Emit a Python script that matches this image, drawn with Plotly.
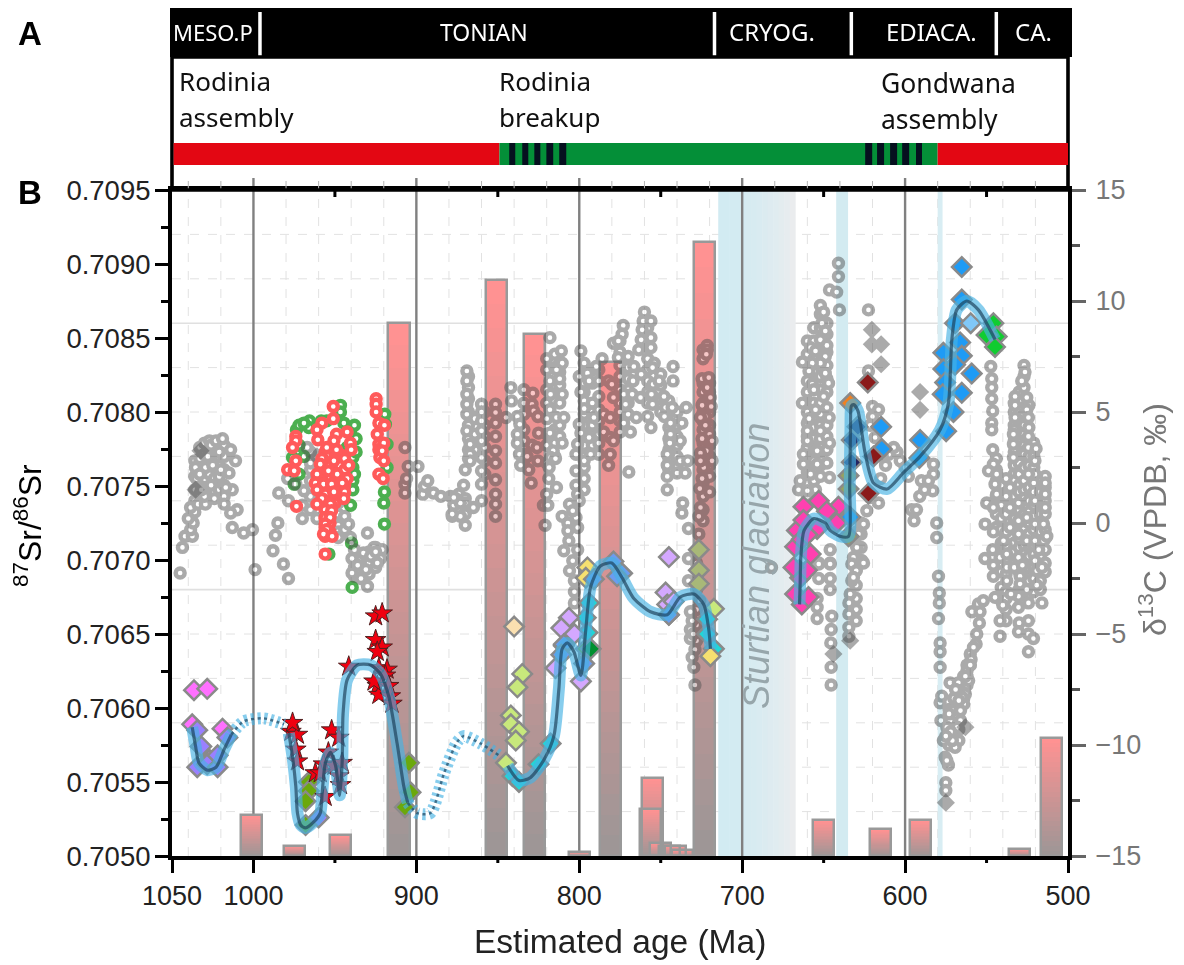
import plotly.graph_objects as go

# ---------- axis values ----------
age_ticks = [1050, 1000, 900, 800, 700, 600, 500]
major_lines = [1000, 900, 800, 700, 600]
minor_50 = [950, 850, 750, 650, 550]
grid_ages = [1040, 1020, 980, 960, 940, 920, 880, 860, 840, 820, 780, 760, 740, 720, 680, 660, 640, 620, 580, 560, 540, 520]
grid_sr = [0.7092, 0.7089, 0.7083, 0.7080, 0.7077, 0.7074, 0.7071, 0.7065, 0.7062, 0.7059, 0.7056, 0.7053]
solid_sr = [0.7086, 0.7068]
sr_ticks = [0.7050, 0.7055, 0.7060, 0.7065, 0.7070, 0.7075, 0.7080, 0.7085, 0.7090, 0.7095]
sr_minor = [0.70525, 0.70575, 0.70625, 0.70675, 0.70725, 0.70775, 0.70825, 0.70875, 0.70925]
d13c_ticks = [-15, -10, -5, 0, 5, 10, 15]
d13c_minor = [-12.5, -7.5, -2.5, 2.5, 7.5, 12.5]

# ---------- bars ----------
bar_age = [1001, 975, 946.6, 910.7, 851, 827.6, 800, 780.7, 736.6, 741, 744.7, 750, 755, 756.5, 723, 650.3, 615, 590.5, 529.8, 510]
bar_top = [0.70528, 0.70507, 0.70514, 0.7086, 0.70889, 0.70853, 0.70503, 0.70834, 0.70504, 0.70507, 0.70507, 0.70509,
           0.70553, 0.70532, 0.70915, 0.70524, 0.70518, 0.70524, 0.70505, 0.7058]

# ---------- glaciations ----------
sturtian = (714.7, 667.5)
marinoan = (642.3, 635)
gaskiers = (580, 577)

# ---------- panel A ----------
period_names = ["MESO.P", "TONIAN", "CRYOG.", "EDIACA.", "CA."]
period_seps = [996, 717, 633, 544]
red_left = (1049, 849)
green_mid = (849, 580)
red_right = (580, 500)
stripes_1 = [(843, 839.3), (835, 831.3), (827.6, 823.9), (820.2, 816), (812.3, 808)]
stripes_2 = [(624.5, 620.2), (617.2, 612.9), (609.2, 604.9), (601.8, 597.5), (593.3, 589.6)]

# ---------- grey d13C circles ----------
gray_a_age = [1045, 1043.6, 1042, 1037.5, 1038.6, 1037, 1040, 1038.6, 1034, 1029.5, 1035.6, 1029.5, 1035, 1031, 1026, 1023, 1019, 1014, 1011, 1015, 1013, 1018, 1010, 1014, 1013, 1006, 1000.6, 999, 985, 986.5, 988, 981.6, 978.5, 984.5, 978.5, 979, 1033, 1028, 1025, 1021, 1030, 1026, 1020, 1032, 1024, 1017]
gray_a_d = [-2.25, -1.1, -0.6, -0.6, -0.3, 0, 0.2, 0.7, 0.85, 0.85, 2.5, 2.5, 2, 1.6, 3.5, 3.7, 3.8, 3.3, 2.8, 2.25, 1.5, 0.85, 0.6, 0.45, -0.2, -0.45, -0.3, -2.1, 0, -0.55, -1.25, -1.85, -2.5, 1.35, 1, 2, 2.2, 3, 2.6, 3.2, 1.2, 1.7, 2.4, 1.5, 1.1, 1.6]
gray_b_age = [967, 965, 974, 969, 970, 970, 961, 948, 941.6, 940.5, 930, 939.5, 932.5, 926, 921, 922, 939.5, 934, 930, 928, 924, 907, 905, 899, 907, 907, 906, 896, 895, 893, 889.5, 885, 879, 876, 878, 877, 936, 931, 925]
gray_b_d = [3.4, 2.7, 1.75, 1.45, 0.2, 0.8, 0.2, -0.65, -0.05, -0.65, -0.45, -1.6, -1.35, -1.1, -1.2, -1.6, -2.25, -2.5, -2.85, -1.5, -1.8, 3.4, 2.55, 2.55, 1.75, 1.35, 2, 1.3, 1.65, 1.9, 1.35, 1.2, 1.2, 1.1, 0.3, 0.8, -1.9, -2.1, -1.3]
gray_c_age = [869, 869, 869, 869, 869, 869, 870, 867, 867, 867, 871, 873, 873, 865, 877, 878, 860, 860, 860, 860, 860, 860, 860, 860, 860, 851.4, 851.4, 851.4, 851.4, 851.4, 851.4, 851.4, 851.4, 851.4, 851.4, 845, 842, 841.6, 838, 836.5, 838, 838, 836.7, 836, 831, 832, 829.5, 828.5, 829, 828, 825.4, 825, 829, 826, 825.4]
gray_c_d = [6.85, 6.4, 5.8, 5.35, 4.9, 4.15, 2.4, 3.55, 3.1, 2.8, 1.7, 0.9, 0.3, 0.7, 1.15, 0.4, 5.35, 5, 4.6, 4.15, 3.7, 2.95, 2.35, 1.75, 1, 5.35, 4.98, 4.5, 3.9, 3.25, 2.7, 1.95, 1.3, 0.85, 0.3, 4.75, 6.1, 5.5, 4.8, 4.45, 4, 3.6, 3.1, 2.6, 2.4, 3, 1.8, 5.85, 5.35, 5.05, 4.8, 4.05, 3.5, 3.4, 2.8]
gray_d_age = [818, 811, 810.5, 814, 818, 812, 810.5, 817.6, 818, 814, 809.5, 818, 810.5, 816, 817.6, 814.6, 818.5, 818.7, 814, 820, 822, 819.3, 821, 799, 800, 795, 799, 794, 797, 800, 799, 801, 802, 797, 802, 802, 801, 800, 806, 810.5, 807, 807, 802, 804, 801, 791, 794, 793, 809.5, 804, 806, 803, 803, 803, 806.4, 801]
gray_d_d = [8.35, 7.75, 7.2, 6.9, 6.4, 6.5, 5.8, 5.8, 5.1, 4.75, 4.75, 4.05, 3.6, 3.25, 2.95, 2.9, 2.5, 2, 1.6, 1.3, 0.8, 0.8, -0.1, 7.75, 6.6, 6.75, 5.9, 6.4, 5.15, 4.45, 4.05, 3.55, 3.1, 2.8, 2.35, 1.7, 1.3, 1, 0.85, 0.3, 0, -0.35, 0.25, 0.55, -0.2, 4.75, 3.85, 3.1, -1.25, -1.7, -2.15, -2.6, -3.1, -3.6, -0.8, -1.2]
gray_e_age = [789.6, 786, 779, 776, 773, 773.7, 776, 782, 780, 785, 781, 785, 781, 781, 782, 779, 779, 772.7, 771.6, 772.7, 768.6, 765, 767.5, 762.4, 769.6, 766.5, 767, 762, 760, 760.8, 761.4, 762, 763.5, 756, 756, 756, 754, 755, 754.7, 755.7, 755, 756, 751, 748, 747, 747.7, 743, 742.4, 742.4, 744, 744, 744.4, 738, 737, 734.4, 746, 746, 746, 740, 738, 733.4, 735, 746, 736.5, 737, 733]
gray_e_d = [7.05, 7.4, 8.1, 7.45, 8.9, 8.5, 8.2, 6.4, 6.25, 4.9, 4.75, 4.1, 3.85, 3.1, 2.6, 3.7, 5.65, 5.8, 5.35, 4.5, 4.1, 4.75, 5.8, 5.65, 2.3, 7.05, 6.4, 6.7, 9.5, 9.1, 8.7, 8.25, 7.8, 9.1, 8.35, 7.9, 7.2, 7, 6.25, 5.8, 5.35, 4.3, 6.4, 5.7, 5.2, 4.8, 5.2, 7.05, 6.4, 4.5, 4, 3.6, 3.7, 4.5, 5.2, 3.1, 2.6, 2.1, 2.25, 2.8, 2.8, 2.25, 1.5, 0.9, 0.45, -0.25]
gray_f_age = [721.5, 721.5, 722, 724.6, 720.5, 721.5, 719.5, 724.6, 719, 722.6, 722.6, 724.6, 718.5, 722, 723.6, 724.6, 726, 720, 725.6, 726.6, 726.6, 725.6, 725.6, 718.5, 725.6, 733, 733, 731.8, 730.7, 731.8, 731.8, 729, 730.7, 729.7, 729, 727, 726, 730]
gray_f_d = [8, 7.8, 7.6, 6.5, 6.55, 6.1, 5.65, 5.3, 5.25, 4.8, 4.4, 3.8, 3.7, 3.25, 2.5, 2, 1.55, 1.4, 0.7, 0.3, -0.5, 3.15, 2.8, 2.8, 4.75, -1.6, -2.6, -4, -4.4, -4.8, -5.2, -5.7, -6.05, -6.5, -7.3, -2.8, -3.5, -5]
gray_g_age = [640.9, 640.9, 646.4, 642, 640.3, 650, 651, 649, 656, 652, 648, 658, 655, 649, 652, 663, 657, 659, 649, 657, 647, 650, 656, 663, 655, 646.6, 659, 652, 660, 660, 646.4, 654, 662.4, 662.4, 654, 658, 664.4, 646.4, 665.4, 655, 660, 653, 646, 646, 682]
gray_g_d = [11.7, 11.1, 10.5, 10.4, 9.6, 9.5, 9, 8.65, 8.2, 8.25, 8, 7.9, 7.75, 7.5, 7.2, 7.25, 7.2, 6.85, 6.75, 6.25, 6.3, 5.7, 6, 5.4, 5.1, 4.75, 4.7, 4.15, 4.15, 3.7, 3.6, 3.25, 3.1, 2.65, 2.65, 2.2, 1.9, 2.05, 1.5, 1.5, 1.45, -1.8, -1.2, -1.8, -2]
gray_h_age = [622.5, 622.5, 620, 616.3, 620, 618.4, 621.4, 605, 610, 614, 603, 598, 615, 590, 582.6, 582.6, 585.7, 583, 591, 596, 593, 594.5, 580.6, 580.6, 616.3, 621.4, 623.5, 625.5, 628.6, 629.6, 631.7, 626.5, 612, 607, 600, 588]
gray_h_d = [9.6, 6.85, 5.25, 5.1, 4.8, 3.85, 4.4, 3.2, 3.1, 3, 2.8, 2.1, 2, 1.9, 2.65, 2.2, 1.9, 1.45, 1.2, 0.6, 0.6, 0.1, 0, -0.65, 0.9, 1.15, 0.55, -0.05, -0.5, -1.1, -1.55, -1.7, 2.6, 3.4, 2.5, 1.5]
gray_i_age = [653, 653, 646, 646, 646, 654, 654, 654, 645, 645.4, 645.6, 645.4, 645.4, 632.7, 630, 632.7, 633.7, 634.5, 634.5, 634.5, 634.5, 631.7, 625.5, 579.5, 579, 579, 579.5, 578.5, 578.5, 578.5]
gray_i_d = [-1.85, -2.5, -1.85, -2.5, -3, -3.4, -3.8, -4.3, -4.2, -4.8, -5.4, -6.5, -7.3, -1.85, -2.15, -2.6, -3.2, -3.6, -4.1, -4.7, -5.1, -2.45, -1.8, -2.4, -3.15, -3.6, -4.3, -5.4, -5.8, -6.5]
gray_j_age = [578.5, 577.5, 578, 572.4, 559, 555, 552, 554, 554.4, 556, 556.4, 559.5, 562, 564, 567.3, 566, 569, 564, 568.3, 566, 572.4, 570.3, 576.5, 569.3, 575.4, 573.4, 574.4, 575, 575, 571, 574.4, 566, 563, 561, 558, 571, 565, 568, 572, 570, 567, 573, 575, 569, 563, 560]
gray_j_d = [-8.1, -7.8, -8.9, -7.2, -4, -3.65, -3.5, -4, -4.5, -5, -5.45, -6.15, -6.65, -7, -7.2, -7.55, -8.15, -8.15, -8.75, -8.9, -8.9, -9.5, -9.8, -10.1, -10.55, -10.9, -10.7, -11.7, -12.05, -8.45, -9.2, -8.45, -7.7, -7.1, -5.6, -9.8, -7.85, -9.2, -9.4, -7.9, -8, -8.6, -9.6, -7.5, -6.9, -6.4]
gray_k_age = [547.4, 546.8, 546.8, 546.8, 546.2, 546.8, 546.8, 546.2, 545.8, 548.8, 544.8, 549.9, 550.9, 551, 545.8, 545.8, 546.2, 527, 526.4, 528.4, 532.5, 525.3, 532.5, 525.3, 532.5, 524.3, 533.5, 524.3, 533.5, 524.3, 533.5, 519.6, 520.3, 535.6, 520.3, 524.3, 514, 514, 514, 530.4, 530.4, 530.4, 530.4, 525.3, 525.3, 520.3, 520.3, 520.3, 520.3, 515, 515, 535.6, 535.6, 539.6, 541.7, 543.8, 543.8, 537.6]
gray_k_d = [7.05, 6.5, 6.1, 5.6, 5.05, 4.5, 4.2, 3.3, 2.65, 2.35, 1.75, 0.9, -0.05, -1.6, 0.7, -0.4, -1.2, 7.1, 6.8, 6.4, 5.7, 5.65, 5.3, 5.1, 4.75, 4.75, 4, 3.9, 3.55, 3.4, 2.95, 3.35, 2.8, 1.6, 2.2, 2.2, 1.8, 1.3, 0.7, 0.9, 0.1, -0.5, -1.55, 0.25, -0.8, 1, -0.05, -0.8, -1.7, -0.05, -0.8, 0.7, -0.2, -0.8, -1.55, 2.2, 1.3, -1.4]
gray_l_age = [545.8, 545.8, 544.8, 541.7, 541.7, 529.4, 529.4, 530.4, 530.4, 530, 530.4, 524.3, 524.3, 524.3, 521.2, 524.3, 516, 519.2, 519.2, 525.3, 537.6, 537.6, 538, 540, 535, 533, 528, 518, 516, 513]
gray_l_d = [-1.9, -2.4, -3.35, -4.4, -5.1, -2.4, -2.75, -3.3, -3.8, -4.5, -4.9, -3.6, -4.4, -5, -5.2, -5.8, -3.6, -2.8, -2.15, -3, -2.6, -2, -3.4, -3.7, -3.2, -2, -1.9, -1.2, -2, -0.6]
gray_columns = [
    (533, [5.4, 5.0, 4.4, 4.2, 3.7, 3.2, 2.6, 2.2, 1.9, 1.2, 0.6, 0.2, -0.2, -0.9, -1.3, -1.8]),
    (530, [5.9, 5.5, 5.1, 4.6, 3.6, 3.0, 2.7, 2.2, 1.7, 1.4, 0.9, 0.6, -0.1, -0.7, -1.1, -1.9, -2.2, -3.0]),
    (527, [6.6, 6.1, 4.9, 4.4, 4.0, 3.5, 3.1, 2.5, 1.9, 1.5, 1.1, 0.4, -0.3, -1.0, -1.4, -2.1, -2.6]),
    (524, [5.3, 4.3, 3.0, 2.6, 1.6, 1.0, 0.5, 0.0, -0.5, -1.0, -1.5, -2.0, -2.6, -3.2]),
    (521, [3.6, 3.0, 2.5, 1.8, 1.4, 0.8, 0.3, -0.3, -1.0, -1.4, -2.0, -2.5, -3.1]),
    (517, [1.4, 1.0, 0.4, 0.0, -0.4, -1.0, -1.5, -2.0, -2.6, -3.0]),
    (514, [2.1, 1.6, 1.0, 0.4, -0.3, -0.7, -1.2, -1.8, -2.2]),
    (544, [2.9, 2.4, 1.9, 1.2, 0.4, -0.2]),
    (541, [1.7, 1.3, 0.8, 0.2, -0.3, -0.9, -1.4, -2.2, -2.9, -3.5]),
    (538, [2.0, 1.2, 0.4, -0.4, -1.0, -1.6, -2.3, -3.1, -3.9, -4.4]),
    (573, [-8.4, -9.1, -9.3, -10]), (570, [-7.9, -8.4, -8.9, -9.4, -9.9]), (567, [-7.6, -8, -8.4, -8.8, -9.3, -9.8]),
    (564, [-6.9, -7.4, -7.9]), (562, [-6.4, -6.9, -7.3]), (560, [-5.9, -6.4]),
    (1036, [2.8, 2.1, 1.5, 1.0, 0.5]), (1033, [3.4, 2.9, 2.4, 1.9, 1.3, 0.9]), (1030, [3.6, 3.1, 2.0, 1.5]),
    (1027, [3.7, 3.2, 2.7, 2.2, 1.6]), (1024, [3.4, 3.0, 2.5, 2.0, 1.4]), (1021, [3.5, 3, 2.6, 2.1, 1.5]), (1018, [3.5, 3.0, 2.4, 1.7, 1.2]),
    (965, [3.2, 2.4, 1.9, 1.2, 0.6]), (948, [0.9, 0.4, -0.1, -0.4]), (944, [0.3, -0.3]), (938, [-1.2, -2, -2.4]),
    (935, [-1.7, -2.2]), (932, [-1.9, -2.3]), (929, [-1.3, -1.8, -2.3]), (925, [-1.1, -1.5, -2]),
    (868, [6.6, 6.1, 5.6, 5.0, 4.4, 3.8, 3.3, 2.9]), (874, [1.3, 0.8, 0.5]), (870, [1.1, 0.9, 0.4, -0.1]),
    (858, [5, 4.4, 3.9, 3.4, 2.8, 2.2]), (864, [4.7, 4, 3.3]),
    (834, [6, 5.4, 4.9, 4.2, 3.7, 3.1, 2.6]), (820, [7.4, 6.9, 6, 5.4, 4.7, 4, 3.5, 2.7]),
    (815, [7.6, 7, 6.2, 5.5, 4.2, 3.6, 3]), (812, [7.2, 6.8, 6.2, 5.4, 4.4, 3.9]),
    (797, [7.2, 6.8, 6.3, 5.9, 5.5, 4.9, 4.4, 3.9, 3.5, 3, 2.5, 2, 1.5]), (792, [6.9, 6.3, 5.4, 5, 4.4, 4, 3.5]),
    (788, [6.9, 6.4, 5.7, 5.1, 4.6, 4, 3.6, 3.1]), (775, [8.2, 7.7, 7.1, 6.6, 6, 5.4, 5, 4.6, 4.1]),
    (770, [7.5, 7, 6.5, 6, 5.4, 4.9]), (758, [8.8, 8.4, 7.9, 7.4, 6.9, 6.4, 5.9, 5.4, 4.8]),
    (750, [6.7, 6.2, 5.6, 5]), (745, [5.5, 5, 4.3, 3.8, 3.3, 2.9, 2.4]), (740, [5, 4.4, 3.9, 3.5, 3, 2.5]),
    (724, [7.8, 7.4, 6.3, 5.9, 5.4, 5, 4.6, 4.2, 3.6, 3.2, 2.8, 2.4, 1.8, 1.2, 0.6, 0.1]),
    (720, [6.3, 5.9, 5.4, 5, 4.4, 4, 3.5, 3, 2.6, 2.1]), (728, [-1.8, -3, -3.9, -4.6, -5.3]),
    (660, [8.2, 7.6, 6.4, 5.9, 5.4, 5, 4.5, 3.9, 3.4, 2.8, 2.3, 1.8, 1.2]),
    (656, [8.8, 8, 7.4, 6.8, 5.4, 4.8, 4.3, 3.8, 3.3, 2.8, 2.4, 1.9]),
    (652, [9.8, 9.4, 8.8, 8.3, 7.7, 6.6, 6, 5.4, 4.9, 4.4, 3.8, 3.2, 2.6, 2.1]),
    (648, [9, 8.5, 7.7, 7.1, 6.5, 5.9, 5.2, 4.4, 3.9, 3.3, 2.7]),
    (630, [-0.4, -1, -1.6, -2.1, -2.8, -3.4, -3.9, -4.4]), (627, [0, -0.5, -1.1, -1.7]),
]
gray_diamond_age = [620.4, 620.4, 614.7, 614.7, 590.8, 590.8, 644, 633.7, 575, 563, 961, 1032.5, 1035.5]
gray_diamond_d = [8.7, 8.05, 8.05, 7.15, 5.9, 5.1, -5.9, -5.3, -12.6, -9.2, 3, 3.25, 1.5]

# ---------- red and green d13C circles ----------
red_age = [951, 951, 958, 961, 960.5, 974, 974, 976, 974, 979, 975, 949, 942.5, 950.6, 940.5, 940, 949, 955, 959, 950.6, 941.5, 961, 954, 948.6, 942.5, 945.5, 962, 957, 952, 961, 956, 950.6, 944.5, 958, 961, 952.7, 956, 952, 956, 953, 956, 955, 957, 951.7, 956, 973.6, 924.7, 924.7, 924.7, 923, 919.6, 924, 923, 923, 920, 922.4, 920, 923, 920.4, 921]
red_d = [5.25, 4.7, 4.5, 4.2, 3.75, 3.9, 3.7, 3.4, 2.8, 2.4, 2.35, 4, 4.1, 3.7, 3.6, 3.3, 3.3, 3.4, 2.65, 2.8, 2.6, 2.2, 2.35, 2.2, 2, 1.8, 1.8, 1.75, 1.75, 1.5, 1.3, 1.4, 1.1, 1.1, 0.85, 0.85, 0.6, 0.55, 0.25, 0.25, -0.05, -0.3, -0.5, -0.6, -1.4, 0.75, 5.6, 5.35, 5, 4.5, 4.4, 4, 3.55, 3.3, 3.6, 2.95, 2.8, 2.2, 2, 3.25]
red_columns = [
    (956, [3.2, 2.6, 2.1, 1.5, 1, 0.7, 0.2, -0.2, -0.6]), (953, [3.1, 2.6, 2.1, 1.5, 1.1, 0.6, 0, -0.4]),
    (950, [3.1, 2.4, 1.9, 1.2, 0.9]), (958, [2.9, 2.4, 1.9, 1.4]), (947, [3.1, 2.6, 1.9, 1.3]), (944, [2.9, 2.4, 1.7, 1.4]),
]
green_age = [946.6, 946.6, 965.6, 958.4, 973.6, 944.5, 940.4, 919.4, 919, 939, 939, 939, 939, 940.4, 939.8, 939.4, 919.6, 920, 919.6, 953.7, 976, 976, 975, 918, 918, 966, 955, 942.5, 972, 972, 972, 969, 969, 937, 937, 938, 938]
green_d = [5.3, 5, 4.6, 4.6, 4.2, 4.5, 4.15, 4.9, 4.45, 2.95, 2.5, 1.9, 1.5, 0.8, -0.9, -2.9, 1.4, 0.9, -0.05, -1.4, 2.95, 2.35, 1.75, 3.55, 2.5, 4.3, 4.6, 3.4, 4.4, 3.5, 2.2, 4.5, 3, 3.8, 3.2, 4.4, 2.2]

# ---------- 87Sr/86Sr diamonds ----------
pink_age = [1036.5, 1028.4, 1037.6, 1019, 1032.5, 1027]
pink_sr = [0.70612, 0.70613, 0.70589, 0.70586, 0.70574, 0.70565]
violet_age = [1034.5, 1032, 1034.5, 1028.4, 1022, 1022, 1016, 960]
violet_sr = [0.70585, 0.70574, 0.7056, 0.70562, 0.7056, 0.70568, 0.7058, 0.70526]
olive_age = [966, 966, 968, 968, 904.6, 903.6, 907, 796]
olive_sr = [0.7055, 0.70544, 0.70537, 0.70521, 0.70563, 0.70543, 0.70533, 0.7064]
cream_age = [840]
cream_sr = [0.70655]
lime_age = [835, 838, 842, 842, 837, 839, 845, 717.4]
lime_sr = [0.70623, 0.70614, 0.70595, 0.70589, 0.70584, 0.70578, 0.70563, 0.70667]
teal_age = [841, 837, 825, 817.6, 796, 795, 794, 721.5, 717.4, 721.5]
teal_sr = [0.70554, 0.7055, 0.70562, 0.70576, 0.70661, 0.70651, 0.70671, 0.7066, 0.7064, 0.7065]
lilac_age = [806.4, 811, 814.6, 799, 745, 747, 746, 745, 809.5, 803, 742]
lilac_sr = [0.70661, 0.70654, 0.70627, 0.70618, 0.70702, 0.70678, 0.7067, 0.70663, 0.70642, 0.7065, 0.70672]
green_dark_age = [793]
green_dark_sr = [0.7064]
yellow_age = [795, 796, 719.5]
yellow_sr = [0.70695, 0.70688, 0.70635]
sage_age = [726.6, 726.6, 726.6]
sage_sr = [0.70707, 0.70693, 0.70684]
periwinkle_age = [779, 773.7, 776.8, 791, 809.5, 797, 811, 745]
periwinkle_sr = [0.70699, 0.70691, 0.70689, 0.70687, 0.70643, 0.7063, 0.70636, 0.70663]
azure_age = [565.2, 565.2, 569.3, 566.2, 576.5, 565.2, 576.5, 569.3, 559.1, 575.4, 565.2, 576.9, 570.3, 574.8, 590.8, 591.2, 614.7, 614.3, 633.7]
azure_sr = [0.70898, 0.70876, 0.7086, 0.70847, 0.7084, 0.70838, 0.70829, 0.70832, 0.70826, 0.7082, 0.70813, 0.70812, 0.708, 0.70787, 0.70781, 0.70769, 0.7079, 0.70775, 0.70729]
sky_age = [559.7]
sky_sr = [0.7086]
bright_green_age = [545.8, 543.8, 550, 544.8]
bright_green_sr = [0.7086, 0.70851, 0.70852, 0.70844]
maroon_age = [622.9, 619.4, 622.5]
maroon_sr = [0.7082, 0.7077, 0.70745]
orange_age = [633.7]
orange_sr = [0.70806]
navy_age = [629.2, 632.7, 632.7]
navy_sr = [0.7079, 0.70781, 0.70766]
khaki_age = [634.7, 634.7, 634.7]
khaki_sr = [0.70757, 0.70748, 0.70716]
hotpink_age = [662.4, 653, 640.9, 654, 666.4, 667.5, 658, 665, 642, 662.4, 663.4, 660, 648, 663.4, 667.5, 659.3, 664.4, 660.3, 668.5]
hotpink_sr = [0.70736, 0.7074, 0.70736, 0.70721, 0.7072, 0.70709, 0.70704, 0.70693, 0.70725, 0.70727, 0.70714, 0.70717, 0.70733, 0.7067, 0.70677, 0.70675, 0.70688, 0.70693, 0.70695]

# ---------- stars ----------
star_red_age = [952, 925, 921, 925, 921, 924, 941.5, 923, 924, 923, 926, 918, 977, 973, 974, 973, 976, 962]
star_red_sr = [0.70585, 0.70662, 0.70664, 0.70646, 0.70641, 0.70638, 0.70628, 0.70627, 0.70615, 0.70609, 0.70618, 0.70626, 0.70584, 0.70582, 0.70572, 0.70564, 0.7059, 0.70556]
star_under_age = [947.6, 954, 957, 950.6, 945.6, 959, 947.6, 946.6, 956, 919, 917, 916, 915]
star_under_sr = [0.7058, 0.7057, 0.70562, 0.70561, 0.70563, 0.70556, 0.70554, 0.70548, 0.7054, 0.70622, 0.70615, 0.70608, 0.70603]

# ---------- smoothed Sr curve ----------
curve_1_age = [1037.6, 1035.5, 1033.5, 1028.4, 1023, 1018, 1013.6]
curve_1_sr = [0.70587, 0.70574, 0.70563, 0.70558, 0.7056, 0.70572, 0.70582]
dots_1_age = [1013.6, 1006, 993.6, 981.3]
dots_1_sr = [0.70582, 0.70591, 0.70593, 0.70589]
curve_2_age = [978.3, 976, 974, 973, 971, 968, 963, 959, 957.8, 955.8, 952.7, 949.6, 947, 945.5, 945, 942.5, 936.3, 928, 922, 917, 911.8, 907.7, 905.3]
curve_2_sr = [0.70583, 0.70567, 0.70547, 0.70529, 0.70521, 0.70519, 0.70523, 0.70529, 0.70543, 0.70563, 0.7057, 0.70561, 0.70541, 0.70565, 0.70596, 0.70619, 0.70629, 0.70629, 0.70623, 0.70608, 0.70576, 0.70547, 0.70536]
dots_2_age = [905.3, 899.5, 891.4, 883, 875, 871, 860.6, 849.3]
dots_2_sr = [0.70536, 0.70529, 0.70529, 0.70556, 0.70577, 0.70581, 0.70576, 0.70568]
curve_3_age = [844, 837, 830, 821.7, 815.6, 812.5, 810.5, 807.4, 803.3, 799, 796, 793, 787, 780, 773.7, 766.5, 756.3, 746, 738, 729.7, 723.6, 720.5, 719.5]
curve_3_sr = [0.70561, 0.70551, 0.70553, 0.70565, 0.70581, 0.70613, 0.7064, 0.70644, 0.70638, 0.70622, 0.70653, 0.70682, 0.70696, 0.70698, 0.70688, 0.70674, 0.70665, 0.70663, 0.70675, 0.70677, 0.7067, 0.70653, 0.7064]
curve_4_age = [664.8, 664.4, 664, 662, 656, 649, 646, 640, 634.7, 634, 633.5, 633, 631.6, 629, 624.5, 619.4, 611, 601, 590.8, 578.5, 573.4, 571.3, 568.3, 562.1, 555, 544.8]
curve_4_sr = [0.7067, 0.70685, 0.70702, 0.7072, 0.70728, 0.70725, 0.7072, 0.70716, 0.70716, 0.7075, 0.7079, 0.70804, 0.70805, 0.70801, 0.70772, 0.70752, 0.70748, 0.70759, 0.7077, 0.70788, 0.70806, 0.70849, 0.70869, 0.70875, 0.70869, 0.70849]

# ---------- helpers for the layout ----------
PL, PR, PT, PB = 172, 1068, 190, 856
def xp(px):
    return (px - PL) / (PR - PL)
def yp(py):
    return (PB - py) / (PB - PT)

SANS = "Liberation Sans, Arial, sans-serif"
HEAD = "Noto Sans, Open Sans, sans-serif"
GREY_TXT = "#777777"

fig = go.Figure()

# gradient bars
steps = 24
top_c = (255, 146, 146)
bot_c = (158, 150, 150)
for k in range(steps):
    f = k / (steps - 1)
    col = tuple(round(bot_c[i] + (top_c[i] - bot_c[i]) * f) for i in range(3))
    fig.add_trace(go.Bar(
        x=bar_age,
        y=[(t - 0.705) / steps * (1.15 if k < steps - 1 else 1) for t in bar_top],
        base=[0.705 + (t - 0.705) * k / steps for t in bar_top],
        width=13.5, marker=dict(color=f"rgb{col}", line=dict(width=0)),
        hoverinfo="skip", showlegend=False))
fig.add_trace(go.Bar(
    x=bar_age, y=[t - 0.705 for t in bar_top], base=[0.705] * len(bar_top),
    width=13, marker=dict(color="rgba(0,0,0,0)", line=dict(color="#999999", width=2.5)),
    hoverinfo="skip", showlegend=False))

# d13C circles
def ring(xs, ys, color, opacity=1.0):
    fig.add_trace(go.Scatter(x=xs, y=ys, yaxis="y2", mode="markers", opacity=opacity,
                             marker=dict(symbol="circle", size=9, color="white", line=dict(color=color, width=4.4)),
                             hoverinfo="skip", showlegend=False))

def expand(columns):
    ages, vals = [], []
    for a, ds in columns:
        ages += [a] * len(ds)
        vals += ds
    return ages, vals

col_age, col_d = expand(gray_columns)
redc_age, redc_d = expand(red_columns)

ring(green_age, green_d, "#4CAF50")
gray_age = (col_age + gray_a_age + gray_b_age + gray_c_age + gray_d_age + gray_e_age + gray_f_age +
            gray_g_age + gray_h_age + gray_i_age + gray_j_age + gray_k_age + gray_l_age)
gray_d = (col_d + gray_a_d + gray_b_d + gray_c_d + gray_d_d + gray_e_d + gray_f_d +
          gray_g_d + gray_h_d + gray_i_d + gray_j_d + gray_k_d + gray_l_d)
ring(gray_age, gray_d, "#555555", 0.5)
fig.add_trace(go.Scatter(x=gray_diamond_age, y=gray_diamond_d, yaxis="y2", mode="markers", opacity=0.5,
                         marker=dict(symbol="diamond", size=14, color="#555555"),
                         hoverinfo="skip", showlegend=False))
ring(redc_age + red_age, redc_d + red_d, "#FF5A5A")

# Sr diamonds
def diamonds(xs, ys, color):
    fig.add_trace(go.Scatter(x=xs, y=ys, yaxis="y3", mode="markers",
                             marker=dict(symbol="diamond", size=15, color=color, line=dict(color="#8a8a8a", width=2.5)),
                             hoverinfo="skip", showlegend=False))

for xs, ys, c in [
    (pink_age, pink_sr, "#FF70FF"), (violet_age, violet_sr, "#9A80FF"), (olive_age, olive_sr, "#6BA80C"),
    (cream_age, cream_sr, "#FBE0B0"), (lime_age, lime_sr, "#C8E87C"), (teal_age, teal_sr, "#22D6D6"),
    (lilac_age, lilac_sr, "#D4A8FF"), (green_dark_age, green_dark_sr, "#009030"), (yellow_age, yellow_sr, "#F6E070"),
    (sage_age, sage_sr, "#A8B878"), (periwinkle_age, periwinkle_sr, "#6C9CF0"), (azure_age, azure_sr, "#1E9BF5"),
    (sky_age, sky_sr, "#80C8F8"), (bright_green_age, bright_green_sr, "#10CC30"), (maroon_age, maroon_sr, "#8B1A1A"),
    (orange_age, orange_sr, "#F08020"), (navy_age, navy_sr, "#252560"), (khaki_age, khaki_sr, "#98A060"),
    (hotpink_age, hotpink_sr, "#FF40B0"),
]:
    diamonds(xs, ys, c)

# stars
fig.add_trace(go.Scatter(x=star_red_age + star_under_age, y=star_red_sr + star_under_sr, yaxis="y3", mode="markers",
                         marker=dict(symbol="star", size=15.5, color="#F00010", line=dict(color="#502020", width=1)),
                         hoverinfo="skip", showlegend=False))

# curves
BAND = "rgba(70,178,228,0.65)"
CORE = "rgba(25,60,85,0.65)"
def curve(xs, ys, dotted=False):
    dash = "3px,3.5px" if dotted else "solid"
    fig.add_trace(go.Scatter(x=xs, y=ys, yaxis="y3", mode="lines",
                             line=dict(color=BAND, width=12, shape="spline", smoothing=0.7, dash=dash),
                             hoverinfo="skip", showlegend=False))
    fig.add_trace(go.Scatter(x=xs, y=ys, yaxis="y3", mode="lines",
                             line=dict(color=CORE, width=3.2 if not dotted else 2.5, shape="spline", smoothing=0.7, dash=dash),
                             hoverinfo="skip", showlegend=False))

curve(curve_1_age, curve_1_sr)
curve(dots_1_age, dots_1_sr, True)
curve(curve_2_age, curve_2_sr)
curve(dots_2_age, dots_2_sr, True)
curve(curve_3_age, curve_3_sr)
curve(curve_4_age, curve_4_sr)

# ---------- shapes ----------
shapes = []
def rect(x0, x1, y0, y1, color, xref="paper", yref="paper", layer="above"):
    shapes.append(dict(type="rect", xref=xref, yref=yref, x0=x0, x1=x1, y0=y0, y1=y1,
                       fillcolor=color, line=dict(width=0), layer=layer))
def vline(x, y0, y1, color, width, dash="solid", xref="x", layer="below"):
    shapes.append(dict(type="line", xref=xref, yref="paper", x0=x, x1=x, y0=y0, y1=y1,
                       line=dict(color=color, width=width, dash=dash), layer=layer))

# grid
for a in grid_ages:
    vline(a, 0, 1, "#e2e2e2", 1, "dash")
    vline(a, 1, yp(181), "#b5b5b5", 1, layer="above")
for s in grid_sr:
    shapes.append(dict(type="line", xref="paper", yref="y", x0=0, x1=1, y0=s, y1=s,
                       line=dict(color="#e2e2e2", width=1, dash="dash"), layer="below"))
for s in solid_sr:
    shapes.append(dict(type="line", xref="paper", yref="y", x0=0, x1=1, y0=s, y1=s,
                       line=dict(color="#e0e0e0", width=1.6), layer="below"))

# glaciation bands
band_slices = 14
blue = (210, 235, 242)
pale = (234, 236, 238)
for i in range(band_slices):
    a0 = sturtian[0] + (sturtian[1] - sturtian[0]) * i / band_slices
    a1 = sturtian[0] + (sturtian[1] - sturtian[0]) * (i + 1.1) / band_slices
    f = (i / (band_slices - 1)) ** 2
    c = tuple(round(blue[j] + (pale[j] - blue[j]) * f) for j in range(3))
    rect(a0, a1, 0, 1, f"rgb{c}", xref="x", layer="below")
rect(marinoan[0], marinoan[1], 0, 1, "#d3ebf1", xref="x", layer="below")
rect(gaskiers[0], gaskiers[1], 0, 1, "#d8edf3", xref="x", layer="below")

# 100 Ma guide lines
for a in major_lines:
    vline(a, 0, yp(178), "#808080", 2.4)

# short ticks on 50 Ma positions
for a in minor_50:
    vline(a, 0, yp(PB + 7), "black", 3, layer="above")
    vline(a, 1, yp(PT + 7), "black", 3, layer="above")

# panel A
rect(xp(170), xp(1072), yp(57), yp(8), "black")
for sep in period_seps:
    vline(sep, yp(57), yp(12), "white", 3.5, layer="above")
shapes.append(dict(type="rect", xref="paper", yref="paper", x0=xp(172), x1=xp(1068), y0=yp(190), y1=yp(57),
                   fillcolor="rgba(0,0,0,0)", line=dict(color="black", width=3.6), layer="above"))
rect(red_left[0], red_left[1], yp(165), yp(143), "#E30713", xref="x")
rect(green_mid[0], green_mid[1], yp(165), yp(143), "#048F38", xref="x")
rect(red_right[0], red_right[1], yp(165), yp(143), "#E30713", xref="x")
for s0, s1 in stripes_1 + stripes_2:
    rect(s0, s1, yp(165), yp(143), "#06101F", xref="x")

# ---------- annotations ----------
ann = []
def label(px, py, text, size, color="black", family=SANS, xanchor="center", yanchor="middle", angle=0):
    ann.append(dict(xref="paper", yref="paper", x=xp(px), y=yp(py), text=text, showarrow=False,
                    font=dict(size=size, color=color, family=family), xanchor=xanchor, yanchor=yanchor,
                    textangle=angle, align="left"))

label(30, 33, "<b>A</b>", 33)
label(30, 192, "<b>B</b>", 33)
for name, px, sz in zip(period_names, [213, 484, 772, 931, 1033], [22, 23, 24, 24, 24]):
    label(px, 32, name, sz, "white", HEAD)
label(177, 81, "Rodinia", 26, "#111111", HEAD, "left")
label(177, 117, "assembly", 26, "#111111", HEAD, "left")
label(497, 81, "Rodinia", 26, "#111111", HEAD, "left")
label(497, 117, "breakup", 26, "#111111", HEAD, "left")
label(879, 83, "Gondwana", 26.5, "#111111", HEAD, "left")
label(879, 119, "assembly", 26.5, "#111111", HEAD, "left")
label(756, 566, "<i>Sturtian glaciation</i>", 36, "#97a6ab", SANS, angle=-90)
label(28, 526, "<sup>87</sup>Sr/<sup>86</sup>Sr", 32, "black", SANS, angle=-90)
label(1153, 520, "δ<sup>13</sup>C (VPDB, ‰)", 32, GREY_TXT, SANS, angle=-90)
label(620, 941, "Estimated age (Ma)", 33.5, "#222222")

fig.update_layout(
    width=1184, height=965, autosize=False,
    margin=dict(l=PL, r=1184 - PR, t=PT, b=965 - PB, pad=0),
    paper_bgcolor="white", plot_bgcolor="white",
    barmode="overlay", bargap=0, showlegend=False, hovermode=False,
    font=dict(family=SANS),
    shapes=shapes, annotations=ann,
    xaxis=dict(range=[1050, 500], tickmode="array", tickvals=age_ticks, ticktext=[str(a) for a in age_ticks],
               showgrid=False, zeroline=False, showline=True, linecolor="black", linewidth=4, mirror=True,
               ticks="outside", ticklen=13, tickwidth=3, tickcolor="black", ticklabelstandoff=0,
               tickfont=dict(size=27, color="#222222", family=SANS)),
    yaxis=dict(range=[0.7050, 0.7095], tickmode="array", tickvals=sr_ticks, tickformat=".4f",
               showgrid=False, zeroline=False, showline=True, linecolor="black", linewidth=4,
               ticks="outside", ticklen=13, tickwidth=3, tickcolor="black", ticklabelstandoff=-1,
               tickfont=dict(size=27.5, color="#222222", family=SANS),
               minor=dict(tickmode="array", tickvals=sr_minor,
                          ticks="outside", ticklen=7, tickwidth=3, tickcolor="black", showgrid=False)),
    yaxis2=dict(range=[-15, 15], overlaying="y", side="right", tickmode="array", tickvals=d13c_ticks,
                showgrid=False, zeroline=False, showline=True, linecolor="black", linewidth=4,
                ticks="outside", ticklen=14, tickwidth=2.5, tickcolor="#666666", ticklabelstandoff=4,
                tickfont=dict(size=27, color=GREY_TXT, family=SANS),
                minor=dict(tickmode="array", tickvals=d13c_minor, ticks="outside", ticklen=8,
                           tickwidth=2.5, tickcolor="#555555", showgrid=False)),
    yaxis3=dict(range=[0.7050, 0.7095], overlaying="y", visible=False),
)

fig.write_html("out.html", post_script="document.body.style.margin='0';", config=dict(displayModeBar=False))
